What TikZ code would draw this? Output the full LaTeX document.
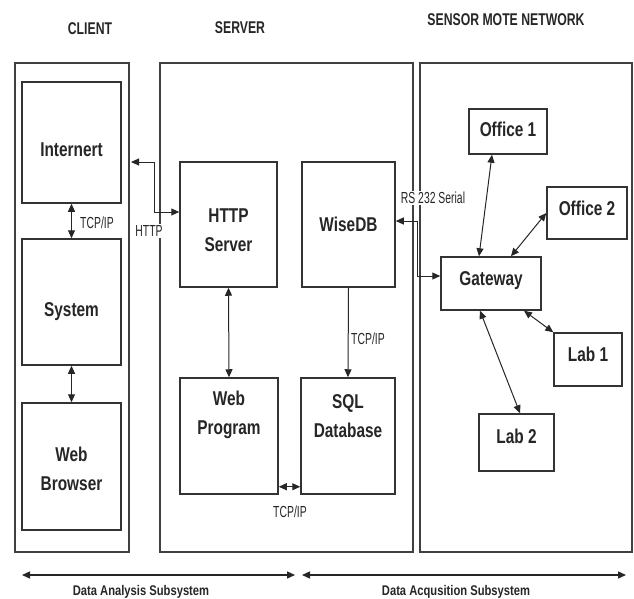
\documentclass[tikz,border=0pt]{standalone}
\usepackage{fontspec}
\setmainfont{Liberation Sans}
\newfontfamily\titlefont[FakeStretch=0.72]{Liberation Sans}
\newfontfamily\linkfont[FakeStretch=0.65]{Liberation Sans}
\newfontfamily\subfont[FakeStretch=0.8]{Liberation Sans}
\newfontfamily\boxfont[FakeStretch=0.77]{Liberation Sans}
\usetikzlibrary{arrows.meta}

\begin{document}
\begin{tikzpicture}[x=1pt,y=-1pt,
    >={Triangle[length=8pt,width=7pt]},
    frame/.style={draw=black!75,line width=1.6pt,inner sep=0pt},
    box/.style={draw=black!80,line width=1.5pt,inner sep=0pt},
    boxtext/.style={font=\boxfont\bfseries\fontsize{20}{29}\selectfont,align=center,text=black!85,inner sep=0pt},
    title/.style={font=\titlefont\bfseries\fontsize{17}{20}\selectfont,text=black!85},
    subtitle/.style={font=\subfont\bfseries\fontsize{14}{17}\selectfont,text=black!85},
    link/.style={line width=1pt,draw=black!85},
    linktext/.style={font=\linkfont\fontsize{16}{18}\selectfont,text=black!85,inner sep=1pt}]
    \useasboundingbox (0,0) rectangle (634,599);

    % titles
    \node[title] (clienttitle) at (90,29) {CLIENT};
    \node[title] (servertitle) at (240,28) {SERVER};
    \node[title] (sensortitle) at (506,20) {SENSOR MOTE NETWORK};

    % outer frames
    \node[frame,minimum width=114pt,minimum height=489pt] (client) at (72,307.5) {};
    \node[frame,minimum width=253pt,minimum height=489pt] (server) at (286.5,307.5) {};
    \node[frame,minimum width=212pt,minimum height=489pt] (sensor) at (526,307.5) {};

    % boxes: name/x/y/width/height/text shift/text
    \foreach \name/\x/\y/\w/\h/\dy/\txt in
      {internert/71.5/142.5/99/121/-7.5/Internert,
       system/71.5/302/99/126/-10/System,
       browser/71.5/466.5/99/127/-2.5/{Web\\Browser},
       http/228.5/224.5/97/125/-6/{HTTP\\Server},
       wisedb/348.5/224.5/93/125/0/WiseDB,
       web/229/436/98/116/21/{Web\\Program},
       sql/348/436/94/116/20/{SQL\\Database},
       gateway/491/283.5/100/53/2.5/Gateway,
       office1/508/131.5/78/45/2/Office 1,
       office2/587/213/80/52/4.5/Office 2,
       lab1/588/359.5/68/53/5.5/Lab 1,
       lab2/516.5/442.5/75/57/6.5/Lab 2}
    {
      \node[box,minimum width=\w pt,minimum height=\h pt] (\name) at (\x,\y) {};
      \node[boxtext] (\name txt) at ([yshift=\dy pt]\name.center) {\txt};
    }

    % client side
    \draw[link,<->] (internert.south) -- (system.north);
    \draw[link,<->] (system.south) -- (browser.north);
    \node[linktext] (tcpclient) at (97,223) {TCP/IP};

    % http link
    \coordinate (httpA) at (131,162);
    \coordinate (httpB) at (154,212);
    \draw[link,<->] (httpA) -| (httpB) -- (httpB -| http.west);
    \node[linktext,fill=white] (httplabel) at (149,231) {HTTP};

    % server side
    \draw[link,<->] (http.south) -- (web.north);
    \draw[link,->] (wisedb.south) -- (sql.north);
    \node[linktext] (tcpdb) at (368,339) {TCP/IP};
    \draw[link,<->] ([yshift=8pt]web.south east) -- ([yshift=8pt]sql.south west);
    \node[linktext] (tcpweb) at (290,512) {TCP/IP};

    % serial link
    \coordinate (rsA) at (417,221);
    \coordinate (rsB) at (417,276);
    \draw[link,<->] (rsA -| wisedb.east) -- (rsA) -- (rsB) -- (rsB -| gateway.west);
    \node[linktext,fill=white] (rslabel) at (433,198) {RS 232 Serial};

    % sensor motes
    \draw[link,<->] ([xshift=-12pt]gateway.north) -- ([xshift=-16pt]office1.south);
    \draw[link,<->] ([xshift=20pt]gateway.north) -- (office2.west);
    \draw[link,<->] ([xshift=33pt]gateway.south) -- (lab1.north west);
    \draw[link,<->] ([xshift=-11pt]gateway.south) -- ([xshift=3.5pt]lab2.north);

    % subsystems
    \coordinate (anaA) at (22,575);
    \coordinate (anaB) at (295,575);
    \coordinate (acqA) at (302,575);
    \coordinate (acqB) at (626,575);
    \draw[link,line width=1.4pt,<->] (anaA) -- (anaB);
    \draw[link,line width=1.4pt,<->] (acqA) -- (acqB);
    \node[subtitle] (analysis) at (141,592) {Data Analysis Subsystem};
    \node[subtitle] (acquisition) at (456,592) {Data Acqusition Subsystem};
\end{tikzpicture}
\end{document}
